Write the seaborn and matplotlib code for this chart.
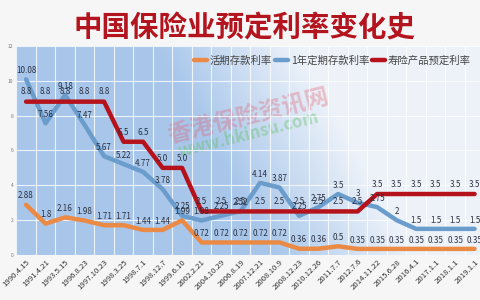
import numpy as np
import pandas as pd
import matplotlib
matplotlib.use("Agg")
import matplotlib.pyplot as plt
import seaborn as sns

dates = ["1990.4.15", "1991.4.21", "1993.5.15", "1996.8.23", "1997.10.23", "1998.3.25",
         "1998.7.1", "1998.12.7", "1999.6.10", "2002.2.21", "2004.10.29", "2006.8.19",
         "2007.12.21", "2008.10.9", "2008.12.23", "2010.12.26", "2011.7.7", "2012.7.6",
         "2014.11.22", "2015.6.28", "2016.4.1", "2017.1.1", "2018.1.1", "2019.1.1"]
demand_rate = [2.88, 1.8, 2.16, 1.98, 1.71, 1.71, 1.44, 1.44, 1.99, 0.72, 0.72, 0.72,
               0.72, 0.72, 0.36, 0.36, 0.5, 0.35, 0.35, 0.35, 0.35, 0.35, 0.35, 0.35]
deposit_1y = [10.08, 7.56, 9.18, 7.47, 5.67, 5.22, 4.77, 3.78, 2.25, 1.98, 2.25, 2.52,
              4.14, 3.87, 2.25, 2.75, 3.5, 3, 2.75, 2, 1.5, 1.5, 1.5, 1.5]
life_rate = [8.8, 8.8, 8.8, 8.8, 8.8, 6.5, 6.5, 5.0, 5.0, 2.5, 2.5, 2.5,
             2.5, 2.5, 2.5, 2.5, 2.5, 2.5, 3.5, 3.5, 3.5, 3.5, 3.5, 3.5]
life_labels = ["8.8", "8.8", "8.8", "8.8", "8.8", "6.5", "6.5", "5.0", "5.0", "2.5", "2.5", "2.5",
               "2.5", "2.5", "2.5", "2.5", "2.5", "2.5", "3.5", "3.5", "3.5", "3.5", "3.5", "3.5"]
series_names = ["活期存款利率", "1年定期存款利率", "寿险产品预定利率"]
title = "中国保险业预定利率变化史"

sns.set_theme(style="white")
plt.rcParams['font.family'] = ['Noto Sans CJK SC', 'DejaVu Sans']

x = np.arange(len(dates))
df = pd.DataFrame({"x": np.tile(x, 3),
                   "rate": demand_rate + deposit_1y + life_rate,
                   "series": np.repeat(series_names, len(dates))})

fig = plt.figure(figsize=(4.8, 3.0), dpi=100, facecolor="#f6f6f6")
ax = fig.add_axes([0.034, 0.15, 0.975, 0.697])

# gradient background
gx = np.linspace(0, 1, 200)
gy = np.linspace(0, 1, 100)
GX, GY = np.meshgrid(gx, gy)
t = np.clip((GX - 0.55 + 0.25 * (GY)) / 0.3, 0, 1)
left = np.array([0.66, 0.78, 0.92])
right = np.array([0.93, 0.95, 0.98])
img = left[None, None, :] * (1 - t[..., None]) + right[None, None, :] * t[..., None]
ax.imshow(img, extent=[-0.5, len(dates) - 0.5, 0, 12], aspect="auto", origin="lower", zorder=0)

palette = {"活期存款利率": "#ea8a45", "1年定期存款利率": "#6a9ccc", "寿险产品预定利率": "#b5121b"}
sns.lineplot(data=df, x="x", y="rate", hue="series", palette=palette, sort=False,
             linewidth=3.2, ax=ax, zorder=3)

lab_kw = dict(fontsize=5.8, color="#2a3040", ha="center", va="bottom", zorder=5)
for i in x:
    ax.text(i, demand_rate[i] + 0.25, f"{demand_rate[i]:g}", **lab_kw)
    ax.text(i, deposit_1y[i] + 0.25, f"{deposit_1y[i]:g}", **lab_kw)
    ax.text(i, life_rate[i] + 0.3, life_labels[i], **lab_kw)

ax.set_xlim(-0.5, len(dates) - 0.5)
ax.set_ylim(0, 12)
ax.set_yticks(range(0, 13, 2))
ax.set_yticklabels([str(v) for v in range(0, 13, 2)], fontsize=3.5, color="#777777")
ax.set_xticks(x)
ax.set_xticklabels(dates, rotation=45, ha="right", rotation_mode="anchor", fontsize=5.6, color="#333333")
ax.tick_params(axis="both", length=0, pad=2)
ax.set_xticks(np.arange(-0.5, len(dates), 1), minor=True)
ax.grid(True, which="minor", axis="x", color="white", linewidth=0.8, alpha=0.8, zorder=1)
ax.grid(True, which="major", axis="y", color="white", linewidth=0.8, alpha=0.8, zorder=1)
ax.set_axisbelow(False)
for s in ax.spines.values():
    s.set_visible(False)
ax.set_xlabel("")
ax.set_ylabel("")

leg = ax.legend(loc="upper right", bbox_to_anchor=(0.985, 0.985), ncol=3, frameon=False,
                fontsize=7.5, handlelength=1.2, handletextpad=0.3, columnspacing=0.3,
                borderaxespad=0.2)
for txt in leg.get_texts():
    txt.set_color("#444444")

fig.text(0.51, 0.905, title, ha="center", va="center", fontsize=20.5, fontweight="bold",
         color="#b3141e")

# watermark
ax.text(11.4, 8.0, "香港保险资讯网", fontsize=17, color="#e06070", alpha=0.35, rotation=14,
        ha="center", va="center", fontweight="bold", zorder=2)
ax.text(11.4, 6.9, "www.hkinsu.com", fontsize=12, color="#5fbf5f", alpha=0.4, rotation=14,
        ha="center", va="center", fontweight="bold", zorder=2)

fig.savefig("out.png", dpi=100, facecolor=fig.get_facecolor())
